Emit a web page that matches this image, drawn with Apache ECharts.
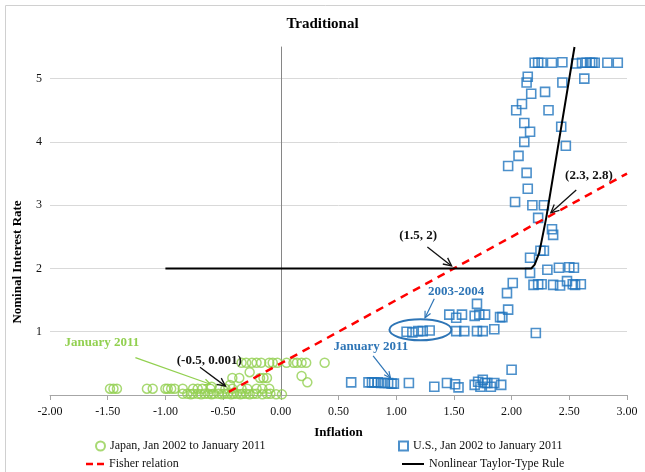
<!DOCTYPE html>
<html>
<head>
<meta charset="utf-8">
<script src="https://cdn.jsdelivr.net/npm/echarts@6/dist/echarts.min.js"></script>
<style>html,body{margin:0;padding:0;background:#fff}#c{width:645px;height:472px}</style>
</head>
<body>
<div id="c"></div>
<script>
// ---- data ----
const X_TICKS = [-2, -1.5, -1, -0.5, 0, 0.5, 1, 1.5, 2, 2.5, 3];
const Y_TICKS = [1, 2, 3, 4, 5];

const JAPAN_X = [
  -0.85,-0.81,-0.78,-0.76,-0.72,-0.69,-0.66,-0.63,-0.60,-0.58,-0.54,-0.51,-0.49,-0.46,-0.43,-0.41,-0.38,-0.35,-0.33,-0.30,-0.27,-0.24,-0.21,-0.16,-0.12,-0.09,-0.04,0.01,
  -1.48,-1.45,-1.42,-1.16,-1.11,-1.00,-0.98,-0.95,-0.92,-0.85,-0.76,-0.72,-0.68,-0.61,-0.53,-0.48,-0.42,-0.34,-0.29,-0.21,-0.16,-0.10,
  -0.60,-0.44,-0.42,-0.36,-0.18,-0.15,-0.12,-0.27,0.18,0.23,
  -0.34,-0.30,-0.25,-0.21,-0.17,-0.10,-0.07,-0.03,0.05,0.11,0.14,0.18,0.22,0.38
];
const JAPAN_Y = [
  0.02,0.02,0.01,0.02,0.02,0.01,0.02,0.02,0.01,0.02,0.02,0.01,0.02,0.02,0.01,0.02,0.02,0.01,0.02,0.02,0.01,0.02,0.02,0.01,0.02,0.02,0.01,0.01,
  0.10,0.10,0.10,0.10,0.10,0.10,0.10,0.10,0.10,0.10,0.10,0.10,0.10,0.10,0.10,0.10,0.10,0.10,0.10,0.10,0.10,0.10,
  0.13,0.16,0.27,0.27,0.27,0.27,0.27,0.36,0.30,0.20,
  0.51,0.51,0.51,0.51,0.51,0.51,0.51,0.51,0.51,0.51,0.51,0.51,0.51,0.51
];

const US_X = [
  0.61,0.76,0.79,0.81,0.84,0.87,0.90,0.93,0.96,0.98,1.11,1.33,1.44,1.51,1.54,1.68,1.71,1.73,1.75,1.77,1.79,1.82,1.85,1.91,2.00,
  1.09,1.14,1.19,1.23,1.29,
  1.52,1.59,1.70,1.75,1.85,2.21,
  1.46,1.52,1.57,1.68,1.72,1.77,1.90,1.92,1.97,
  1.70,1.96,2.01,
  2.19,2.23,2.26,2.36,2.42,2.48,2.53,2.55,2.60,
  2.16,2.31,2.41,2.50,2.54,
  2.16,2.25,2.28,2.35,2.36,2.23,2.03,2.18,2.28,2.14,2.13,1.97,2.06,2.11,2.47,2.11,2.16,2.43,2.04,2.32,2.09,2.17,2.29,2.13,2.14,2.44,2.63,
  2.20,2.23,2.26,2.35,2.44,2.56,2.61,2.65,2.68,2.70,2.72,2.83,2.92
];
const US_Y = [
  0.20,0.20,0.20,0.20,0.20,0.19,0.19,0.19,0.18,0.18,0.19,0.13,0.19,0.17,0.12,0.16,0.21,0.13,0.24,0.19,0.19,0.13,0.19,0.16,0.40,
  1.00,0.99,1.01,1.01,1.02,
  1.01,1.01,1.01,1.01,1.04,0.98,
  1.27,1.22,1.27,1.25,1.27,1.27,1.23,1.23,1.35,
  1.44,1.61,1.77,
  1.74,1.75,1.75,1.74,1.73,1.80,1.75,1.74,1.75,
  1.93,1.98,2.01,2.02,2.01,
  2.17,2.28,2.28,2.62,2.53,2.80,3.05,3.00,3.00,3.26,3.51,3.62,3.78,4.00,3.94,4.30,4.16,4.24,4.50,4.50,4.60,4.76,4.79,4.94,5.03,4.94,5.00,
  5.25,5.25,5.25,5.25,5.26,5.24,5.25,5.25,5.25,5.25,5.25,5.25,5.25
];

const FISHER_X = [-0.45, 3.0];
const FISHER_Y = [0.05, 3.5];
const TAYLOR_X = [-1.0, 2.17, 2.2, 2.24, 2.3, 2.545];
const TAYLOR_Y = [2, 2, 2.06, 2.25, 2.8, 5.5];

const NAMES = ['Japan, Jan 2002 to January 2011', 'U.S., Jan 2002 to January 2011', 'Fisher relation', 'Nonlinear Taylor-Type Rule'];

// ---- chart ----
const SERIF = '"Liberation Serif", "Times New Roman", serif';
const GREEN = '#92D050';
const BLUE = '#1F74BE';
const pairs = (xs, ys) => xs.map((x, i) => [x, ys[i]]);

const chart = echarts.init(document.getElementById('c'), null, {renderer: 'canvas'});
const legendText = {fontFamily: SERIF, fontSize: 12, color: '#111'};
chart.setOption({
  animation: false,
  title: {text: 'Traditional', left: 'center', top: 12,
    textStyle: {fontFamily: SERIF, fontWeight: 'bold', fontSize: 15, color: '#000'}},
  grid: {left: 50, right: 18, top: 47, bottom: 77},
  legend: [
    {data: [{name: NAMES[0], icon: 'circle'}], left: 90, top: 435, itemWidth: 9, itemHeight: 9, textStyle: legendText, selectedMode: false},
    {data: [{name: NAMES[1], icon: 'rect'}], left: 393, top: 435, itemWidth: 9, itemHeight: 9, textStyle: legendText, selectedMode: false},
    {data: [{name: NAMES[2], icon: 'path://M0,0h7v2.5h-7z M11,0h7v2.5h-7z'}], left: 81, top: 453, itemWidth: 18, itemHeight: 2.5, textStyle: legendText, selectedMode: false},
    {data: [{name: NAMES[3], icon: 'path://M0,0h22v2h-22z'}], left: 397, top: 453, itemWidth: 22, itemHeight: 2, textStyle: legendText, selectedMode: false}
  ],
  xAxis: {
    type: 'value', min: -2, max: 3, interval: 0.5,
    name: 'Inflation', nameLocation: 'middle', nameGap: 31,
    nameTextStyle: {fontFamily: SERIF, fontWeight: 'bold', fontSize: 13, color: '#000'},
    axisLine: {onZero: false, lineStyle: {color: '#a6a6a6'}},
    axisTick: {show: true, inside: false, length: 5, lineStyle: {color: '#a6a6a6'}},
    axisLabel: {fontFamily: SERIF, fontSize: 12, color: '#111', margin: 11,
      formatter: v => X_TICKS.indexOf(v) >= 0 ? v.toFixed(2) : ''},
    splitLine: {show: false}
  },
  yAxis: {
    type: 'value', min: 0, max: 5.5, interval: 1,
    axisLine: {show: true, onZero: true, lineStyle: {color: '#868686'}},
    axisTick: {show: false},
    axisLabel: {fontFamily: SERIF, fontSize: 12, color: '#111', margin: 8,
      formatter: v => Y_TICKS.indexOf(v) >= 0 ? String(v) : ''},
    splitLine: {show: false}
  },
  series: [
    {name: 'gridlines', type: 'line', data: [], z: 0, silent: true,
      markLine: {silent: true, symbol: ['none', 'none'], label: {show: false}, z: 0,
        lineStyle: {color: '#d9d9d9', type: 'solid', width: 1},
        data: Y_TICKS.map(v => ({yAxis: v}))}
    },
    {name: NAMES[0], type: 'scatter', symbol: 'circle', symbolSize: 9, z: 2,
      data: pairs(JAPAN_X, JAPAN_Y),
      itemStyle: {color: 'rgba(0,0,0,0)', borderColor: GREEN, borderWidth: 1.5}
    },
    {name: NAMES[1], type: 'scatter', symbol: 'rect', symbolSize: 9, z: 2,
      data: pairs(US_X, US_Y),
      itemStyle: {color: 'rgba(0,0,0,0)', borderColor: BLUE, borderWidth: 1.6}
    },
    {name: NAMES[2], type: 'line', symbol: 'none', data: pairs(FISHER_X, FISHER_Y),
      lineStyle: {color: '#ff0000', width: 2.5, type: [8, 6]}, itemStyle: {color: '#ff0000'}, z: 8},
    {name: NAMES[3], type: 'line', symbol: 'none', data: pairs(TAYLOR_X, TAYLOR_Y),
      lineStyle: {color: '#000', width: 2}, itemStyle: {color: '#000'}, z: 9}
  ]
});

// ---- annotations (positioned in data coordinates) ----
const P = (x, y) => chart.convertToPixel({gridIndex: 0}, [x, y]);
function arrow(a, b, color, width, head) {
  const p0 = P(a[0], a[1]), p1 = P(b[0], b[1]);
  const ang = Math.atan2(p1[1] - p0[1], p1[0] - p0[0]);
  const L = head, s = 0.45;
  const h1 = [p1[0] - L * Math.cos(ang - s), p1[1] - L * Math.sin(ang - s)];
  const h2 = [p1[0] - L * Math.cos(ang + s), p1[1] - L * Math.sin(ang + s)];
  return [
    {type: 'line', shape: {x1: p0[0], y1: p0[1], x2: p1[0], y2: p1[1]}, style: {stroke: color, lineWidth: width}, z: 10},
    {type: 'polyline', shape: {points: [h1, p1, h2]}, style: {stroke: color, lineWidth: width, fill: null}, z: 10}
  ];
}
function label(text, at, color) {
  const p = P(at[0], at[1]);
  return {type: 'text', x: p[0], y: p[1], z: 10,
    style: {text: text, fill: color, font: 'bold 13px ' + SERIF, align: 'center', verticalAlign: 'middle'}};
}
const ell = P(1.21, 1.03);
const g = [
  {type: 'rect', shape: {x: 5.5, y: 5.5, width: 660, height: 480}, style: {fill: null, stroke: '#d0d0d0', lineWidth: 1}, z: 0},
  {type: 'text', x: 18, y: 262, rotation: Math.PI / 2, z: 10,
    style: {text: 'Nominal Interest Rate', fill: '#000', font: 'bold 13px ' + SERIF, align: 'center', verticalAlign: 'middle'}},
  label('(2.3, 2.8)', [2.67, 3.47], '#111'),
  ...arrow([2.56, 3.24], [2.34, 2.88], '#111', 1.3, 9),
  label('(1.5, 2)', [1.19, 2.52], '#111'),
  ...arrow([1.27, 2.34], [1.48, 2.04], '#111', 1.3, 9),
  label('(-0.5, 0.001)', [-0.62, 0.55], '#111'),
  ...arrow([-0.70, 0.44], [-0.48, 0.14], '#111', 1.3, 9),
  label('January 2011', [-1.55, 0.82], GREEN),
  ...arrow([-1.26, 0.59], [-0.61, 0.17], GREEN, 1.3, 7),
  label('January 2011', [0.78, 0.76], '#2E75B6'),
  ...arrow([0.80, 0.62], [0.95, 0.27], '#2E75B6', 1.2, 7),
  label('2003-2004', [1.52, 1.63], '#2E75B6'),
  ...arrow([1.33, 1.52], [1.25, 1.22], '#2E75B6', 1.2, 7),
  {type: 'ellipse', shape: {cx: ell[0], cy: ell[1], rx: 31, ry: 10.5}, style: {fill: null, stroke: '#2E75B6', lineWidth: 2}, z: 10}
];
chart.setOption({graphic: g});
</script>
</body>
</html>
